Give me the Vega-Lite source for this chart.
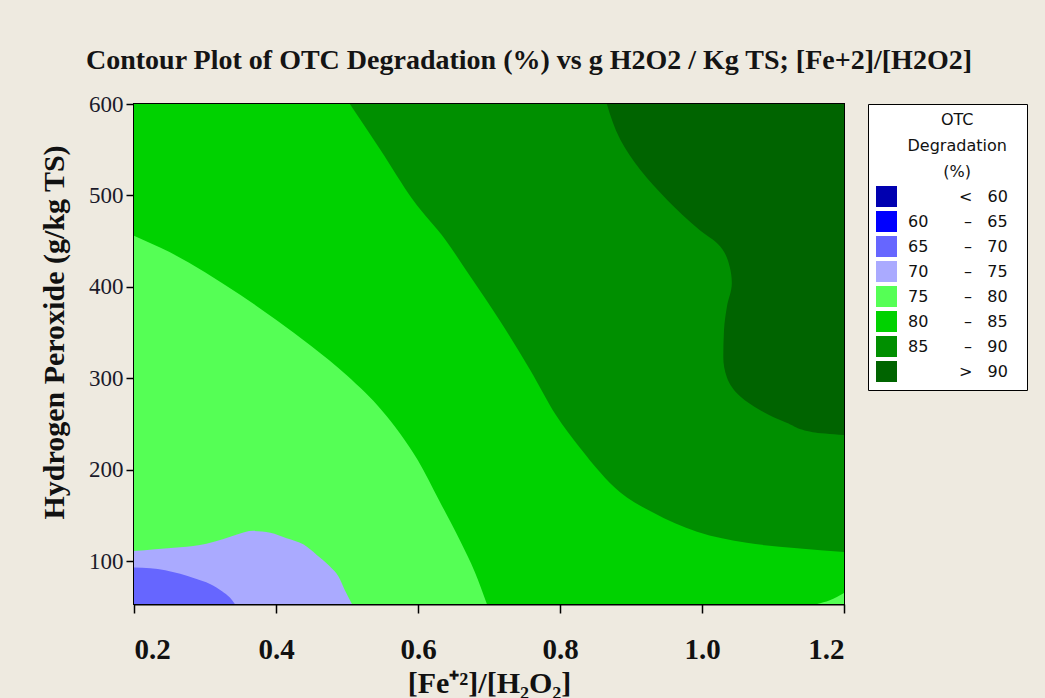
{
  "$schema": "https://vega.github.io/schema/vega-lite/v6.json",
  "width": 710,
  "height": 500,
  "autosize": {"type": "none"},
  "padding": {"left": 134, "top": 104, "right": 201, "bottom": 94},
  "background": "#EEEAE0",
  "title": {
    "text": "Contour Plot of OTC Degradation (%) vs g H2O2 / Kg TS; [Fe+2]/[H2O2]",
    "font": "Liberation Serif",
    "fontSize": 28,
    "fontWeight": "bold",
    "color": "#141414",
    "anchor": "middle",
    "frame": "group",
    "baseline": "alphabetic",
    "offset": 26,
    "dx": 40,
    "dy": 30
  },
  "config": {
    "view": {"stroke": "#000", "strokeWidth": 2},
    "axis": {"grid": false, "domainColor": "#000", "domainWidth": 2, "tickColor": "#000", "tickWidth": 1.5}
  },
  "data": {
    "values": [
      {"region": "full", "band": "80 – 85", "x": 0.2, "y": 600},
      {"region": "full", "band": "80 – 85", "x": 1.2, "y": 600},

      {"region": "D", "band": "85 – 90", "x": 0.504, "y": 600},
      {"region": "D", "band": "85 – 90", "x": 0.547, "y": 550},
      {"region": "D", "band": "85 – 90", "x": 0.593, "y": 495},
      {"region": "D", "band": "85 – 90", "x": 0.639, "y": 451},
      {"region": "D", "band": "85 – 90", "x": 0.673, "y": 412},
      {"region": "D", "band": "85 – 90", "x": 0.716, "y": 362},
      {"region": "D", "band": "85 – 90", "x": 0.758, "y": 309},
      {"region": "D", "band": "85 – 90", "x": 0.794, "y": 260},
      {"region": "D", "band": "85 – 90", "x": 0.828, "y": 224},
      {"region": "D", "band": "85 – 90", "x": 0.885, "y": 175},
      {"region": "D", "band": "85 – 90", "x": 0.931, "y": 153},
      {"region": "D", "band": "85 – 90", "x": 0.993, "y": 132},
      {"region": "D", "band": "85 – 90", "x": 1.063, "y": 120},
      {"region": "D", "band": "85 – 90", "x": 1.134, "y": 114},
      {"region": "D", "band": "85 – 90", "x": 1.2, "y": 110},

      {"region": "E", "band": "> 90", "x": 0.866, "y": 600},
      {"region": "E", "band": "> 90", "x": 0.885, "y": 561},
      {"region": "E", "band": "> 90", "x": 0.913, "y": 528},
      {"region": "E", "band": "> 90", "x": 0.951, "y": 495},
      {"region": "E", "band": "> 90", "x": 0.997, "y": 462},
      {"region": "E", "band": "> 90", "x": 1.021, "y": 448},
      {"region": "E", "band": "> 90", "x": 1.039, "y": 422},
      {"region": "E", "band": "> 90", "x": 1.042, "y": 404},
      {"region": "E", "band": "> 90", "x": 1.035, "y": 378},
      {"region": "E", "band": "> 90", "x": 1.031, "y": 353},
      {"region": "E", "band": "> 90", "x": 1.030, "y": 323},
      {"region": "E", "band": "> 90", "x": 1.035, "y": 301},
      {"region": "E", "band": "> 90", "x": 1.054, "y": 280},
      {"region": "E", "band": "> 90", "x": 1.082, "y": 265},
      {"region": "E", "band": "> 90", "x": 1.120, "y": 251},
      {"region": "E", "band": "> 90", "x": 1.156, "y": 241},
      {"region": "E", "band": "> 90", "x": 1.2, "y": 238},

      {"region": "C", "band": "75 – 80", "x": 0.2, "y": 456},
      {"region": "C", "band": "75 – 80", "x": 0.25, "y": 438},
      {"region": "C", "band": "75 – 80", "x": 0.30, "y": 416},
      {"region": "C", "band": "75 – 80", "x": 0.35, "y": 391},
      {"region": "C", "band": "75 – 80", "x": 0.40, "y": 364},
      {"region": "C", "band": "75 – 80", "x": 0.45, "y": 335},
      {"region": "C", "band": "75 – 80", "x": 0.50, "y": 303},
      {"region": "C", "band": "75 – 80", "x": 0.55, "y": 264},
      {"region": "C", "band": "75 – 80", "x": 0.60, "y": 210},
      {"region": "C", "band": "75 – 80", "x": 0.63, "y": 166},
      {"region": "C", "band": "75 – 80", "x": 0.66, "y": 121},
      {"region": "C", "band": "75 – 80", "x": 0.68, "y": 88},
      {"region": "C", "band": "75 – 80", "x": 0.697, "y": 53},

      {"region": "F", "band": "75 – 80", "x": 1.162, "y": 53},
      {"region": "F", "band": "75 – 80", "x": 1.180, "y": 57},
      {"region": "F", "band": "75 – 80", "x": 1.2, "y": 65},

      {"region": "B", "band": "70 – 75", "x": 0.2, "y": 111},
      {"region": "B", "band": "70 – 75", "x": 0.230, "y": 113},
      {"region": "B", "band": "70 – 75", "x": 0.265, "y": 115},
      {"region": "B", "band": "70 – 75", "x": 0.302, "y": 119},
      {"region": "B", "band": "70 – 75", "x": 0.326, "y": 124},
      {"region": "B", "band": "70 – 75", "x": 0.345, "y": 129},
      {"region": "B", "band": "70 – 75", "x": 0.368, "y": 133},
      {"region": "B", "band": "70 – 75", "x": 0.392, "y": 131},
      {"region": "B", "band": "70 – 75", "x": 0.415, "y": 125},
      {"region": "B", "band": "70 – 75", "x": 0.439, "y": 118},
      {"region": "B", "band": "70 – 75", "x": 0.457, "y": 107},
      {"region": "B", "band": "70 – 75", "x": 0.476, "y": 94},
      {"region": "B", "band": "70 – 75", "x": 0.488, "y": 83},
      {"region": "B", "band": "70 – 75", "x": 0.497, "y": 68},
      {"region": "B", "band": "70 – 75", "x": 0.507, "y": 53},

      {"region": "A", "band": "65 – 70", "x": 0.2, "y": 93},
      {"region": "A", "band": "65 – 70", "x": 0.223, "y": 92},
      {"region": "A", "band": "65 – 70", "x": 0.244, "y": 90},
      {"region": "A", "band": "65 – 70", "x": 0.265, "y": 86},
      {"region": "A", "band": "65 – 70", "x": 0.286, "y": 81},
      {"region": "A", "band": "65 – 70", "x": 0.307, "y": 75},
      {"region": "A", "band": "65 – 70", "x": 0.324, "y": 67},
      {"region": "A", "band": "65 – 70", "x": 0.335, "y": 60},
      {"region": "A", "band": "65 – 70", "x": 0.342, "y": 53}
    ]
  },
  "encoding": {
    "x": {
      "field": "x",
      "type": "quantitative",
      "stack": null,
      "scale": {"domain": [0.2, 1.2], "nice": false, "zero": false},
      "axis": {
        "values": [0.2, 0.4, 0.6, 0.8, 1.0, 1.2],
        "format": ".1f",
        "title": "[Fe⁺²]/[H₂O₂]",
        "labelFont": "Liberation Serif",
        "labelFontSize": 29,
        "labelFontWeight": "bold",
        "labelColor": "#111",
        "labelPadding": 22,
        "tickSize": 9,
        "titleFont": "Liberation Serif",
        "titleFontSize": 30,
        "titleFontWeight": "bold",
        "titleColor": "#111",
        "titleBaseline": "alphabetic",
        "titleX": 355,
        "titleY": 88
      }
    },
    "y": {
      "field": "y",
      "type": "quantitative",
      "stack": null,
      "scale": {"domain": [53, 600], "nice": false, "zero": false},
      "axis": {
        "values": [100, 200, 300, 400, 500, 600],
        "title": "Hydrogen Peroxide (g/kg TS)",
        "labelFont": "Liberation Serif",
        "labelFontSize": 23,
        "labelColor": "#1a1a2a",
        "labelPadding": 3,
        "tickSize": 8,
        "titleFont": "Liberation Serif",
        "titleFontSize": 30,
        "titleFontWeight": "bold",
        "titleColor": "#111",
        "titleAngle": -90,
        "titleBaseline": "alphabetic",
        "titleAlign": "center",
        "titleX": -71,
        "titleY": 228
      }
    },
    "color": {
      "field": "band",
      "type": "nominal",
      "scale": {
        "domain": ["< 60", "60 – 65", "65 – 70", "70 – 75", "75 – 80", "80 – 85", "85 – 90", "> 90"],
        "range": ["#0000B0", "#0000FF", "#6666FF", "#AAAAFF", "#55FF55", "#00D200", "#008F00", "#006400"]
      },
      "legend": {
        "title": ["\u200b\u00a0\u00a0\u00a0\u00a0OTC", "\u200b\u00a0\u00a0\u00a0\u00a0Degradation", "\u200b\u00a0\u00a0\u00a0\u00a0(%)"],
        "orient": "none",
        "legendX": 734,
        "legendY": 0,
        "symbolType": "square",
        "symbolSize": 441,
        "symbolStrokeWidth": 0,
        "symbolOpacity": 1,
        "labelFont": "DejaVu Sans",
        "labelFontSize": 16,
        "labelColor": "#111",
        "labelOffset": 11,
        "rowPadding": 4,
        "labelExpr": "indexof(datum.label, '–') > 0 ? replace(datum.label, ' – ', '\u00a0\u00a0\u00a0\u00a0\u00a0\u00a0\u00a0–\u00a0\u00a0\u00a0') + '\u00a0\u00a0\u200b' : '\u200b\u2007\u2007\u2007\u2007\u00a0\u00a0' + replace(datum.label, ' ', '\u00a0\u00a0\u00a0') + '\u00a0\u00a0\u200b'",
        "titleFont": "DejaVu Sans",
        "titleFontSize": 16,
        "titleFontWeight": "normal",
        "titleColor": "#111",
        "titleAlign": "center",
        "titleAnchor": "middle",
        "titleLineHeight": 26,
        "titlePadding": 6,
        "titleLimit": 400,
        "padding": 8,
        "fillColor": "#FFFFFF",
        "strokeColor": "#000000"
      }
    }
  },
  "layer": [
    {
      "transform": [{"filter": "datum.region === 'full'"}],
      "mark": {"type": "area", "opacity": 1, "clip": true},
      "encoding": {"y2": {"datum": 53}}
    },
    {
      "transform": [{"filter": "datum.region === 'D'"}],
      "mark": {"type": "area", "opacity": 1, "clip": true, "interpolate": "monotone"},
      "encoding": {"y2": {"datum": 600}}
    },
    {
      "transform": [{"filter": "datum.region === 'E'"}],
      "mark": {"type": "area", "orient": "horizontal", "opacity": 1, "clip": true, "interpolate": "monotone"},
      "encoding": {"x2": {"datum": 1.2}}
    },
    {
      "transform": [{"filter": "datum.region === 'C'"}],
      "mark": {"type": "area", "opacity": 1, "clip": true, "interpolate": "monotone"},
      "encoding": {"y2": {"datum": 53}}
    },
    {
      "transform": [{"filter": "datum.region === 'F'"}],
      "mark": {"type": "area", "opacity": 1, "clip": true, "interpolate": "monotone"},
      "encoding": {"y2": {"datum": 53}}
    },
    {
      "transform": [{"filter": "datum.region === 'B'"}],
      "mark": {"type": "area", "opacity": 1, "clip": true, "interpolate": "monotone"},
      "encoding": {"y2": {"datum": 53}}
    },
    {
      "transform": [{"filter": "datum.region === 'A'"}],
      "mark": {"type": "area", "opacity": 1, "clip": true, "interpolate": "monotone"},
      "encoding": {"y2": {"datum": 53}}
    }
  ]
}
